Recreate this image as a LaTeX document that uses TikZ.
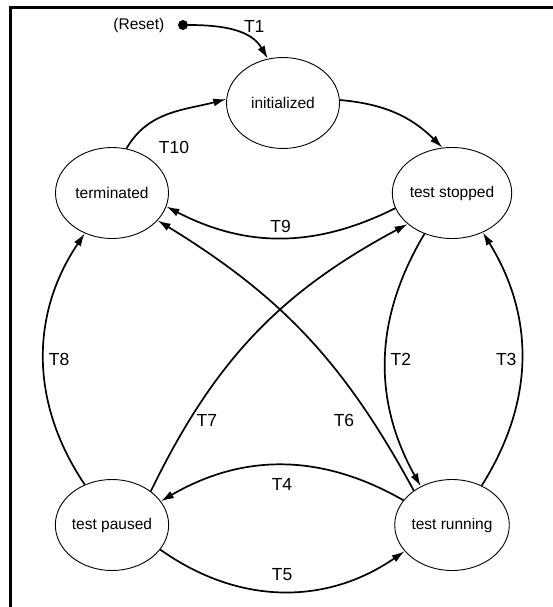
\documentclass[tikz,border=0pt]{standalone}
\usepackage{fontspec}
\setmainfont{Liberation Sans}
\usepackage{tikz}
\usetikzlibrary{shapes.geometric,arrows.meta,positioning}

\begin{document}
\begin{tikzpicture}[
    x=1pt, y=1pt,
    state/.style={ellipse, draw, on grid, line width=0.9pt, minimum width=113pt, minimum height=91pt, inner sep=0pt, font=\fontsize{15.5}{18}\selectfont},
    trans/.style={-{Latex[length=13pt,width=8pt]}, line width=1.7pt},
    tlabel/.style={font=\fontsize{17.5}{20}\selectfont},
    dot/.style={circle, fill, minimum size=10pt, inner sep=0pt}
]
\useasboundingbox (0,0) rectangle (553,-607);

% Frame
\draw[line width=3pt] (10,-607) -- (10,-7.5) -- (553,-7.5);

% States
\node[state] (init) at (283,-103) {initialized};
\node[state, below left=90pt and 171pt of init] (term) {terminated};
\node[state, below right=90pt and 169pt of init] (stop) {test stopped};
\node[state, below=332pt of term] (pause) {test paused};
\node[state, below=332pt of stop] (run) {test running};

% Reset
\node[dot] (reset) at (183,-25) {};
\node[left=10pt of reset, font=\fontsize{15.5}{18}\selectfont] (resetlbl) {(Reset)};

% Transitions
\draw[trans] (reset) to[out=0, in=120] node[tlabel, pos=0.6, anchor=south west, inner sep=1pt] {T1} (init.109);
\draw[trans] (init.3) to[bend left=20] (stop.102);
\draw[trans] (term.72) to[out=60, in=195] node[tlabel, pos=0.55, below=25pt] {T10} (init.176);
\draw[trans] (stop.195) to[bend left=27] node[tlabel, midway, above=1pt] {T9} (term.346);
\draw[trans] (stop.236) to[bend right=30] node[tlabel, midway, right=1pt] {T2} (run.129);
\draw[trans] (run.53) to[bend right=32] node[tlabel, midway, left=1pt] {T3} (stop.308);
\draw[trans] (pause.124) to[bend left=34] node[tlabel, midway, right=1pt] {T8} (term.236);
\draw[trans] (pause.41) to[bend left=18] node[tlabel, pos=0.2, right=3pt] {T7} (stop.215);
\draw[trans] (run.138) to[bend right=15] node[tlabel, pos=0.2, left=14pt] {T6} (term.329);
\draw[trans] (run.153) to[bend right=30] node[tlabel, midway, below=9pt] {T4} (pause.26);
\draw[trans] (pause.333) to[bend right=35] node[tlabel, midway, above=7pt] {T5} (run.209);

\end{tikzpicture}
\end{document}
